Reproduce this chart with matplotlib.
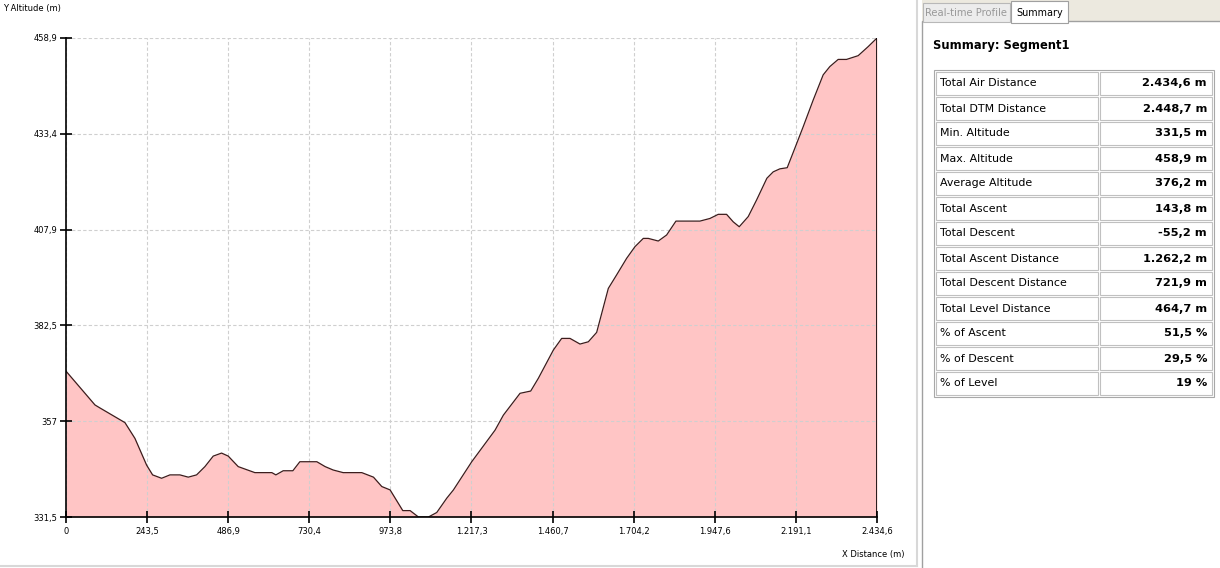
import matplotlib.pyplot as plt
from matplotlib.patches import Rectangle
import numpy as np

# profile (distance in m, altitude in m)
distance = [0, 87, 102, 177, 207, 242, 260, 287, 312, 342,
            367, 392, 417, 442, 467, 487, 517, 567, 618, 630,
            652, 681, 702, 753, 778, 802, 832, 888, 923, 948,
            973, 1011, 1033, 1058, 1088, 1113, 1143, 1163, 1218, 1288,
            1313, 1363, 1395, 1418, 1463, 1488, 1513, 1543, 1568, 1593,
            1628, 1653, 1683, 1708, 1733, 1748, 1778, 1803, 1831, 1903,
            1933, 1958, 1983, 2003, 2021, 2048, 2073, 2104, 2123, 2143,
            2165, 2188, 2213, 2243, 2273, 2293, 2318, 2343, 2378, 2408,
            2434.55]
altitude = [370.3, 361.3, 360.5, 356.6, 352.4, 345.3, 342.7, 341.8, 342.7, 342.7,
            342.1, 342.7, 344.9, 347.7, 348.5, 347.7, 344.9, 343.3, 343.3, 342.7,
            343.8, 343.8, 346.2, 346.2, 344.9, 344.0, 343.3, 343.3, 342.1, 339.6,
            338.7, 333.2, 333.2, 331.5, 331.5, 332.7, 336.5, 338.7, 346.2, 354.6,
            358.6, 364.4, 365.0, 368.4, 375.9, 379.0, 379.0, 377.5, 378.1, 380.6,
            392.3, 395.9, 400.3, 403.4, 405.6, 405.6, 404.9, 406.5, 410.2, 410.2,
            410.9, 412.0, 412.0, 410.0, 408.7, 411.4, 415.8, 421.6, 423.3, 424.1,
            424.4, 429.6, 435.3, 442.4, 449.1, 451.3, 453.2, 453.2, 454.2, 456.6,
            458.9]

x_min, x_max = 0, 2434.55
y_min, y_max = 331.5, 458.9
xtick_labels = ['0', '243,5', '486,9', '730,4', '973,8', '1.217,3', '1.460,7',
                '1.704,2', '1.947,6', '2.191,1', '2.434,6']
ytick_labels = ['331,5', '357', '382,5', '407,9', '433,4', '458,9']

# summary table
summary_names = ['Total Air Distance', 'Total DTM Distance', 'Min. Altitude',
                 'Max. Altitude', 'Average Altitude', 'Total Ascent',
                 'Total Descent', 'Total Ascent Distance', 'Total Descent Distance',
                 'Total Level Distance', '% of Ascent', '% of Descent', '% of Level']
summary_values = ['2.434,6 m', '2.448,7 m', '331,5 m', '458,9 m', '376,2 m',
                  '143,8 m', '-55,2 m', '1.262,2 m', '721,9 m', '464,7 m',
                  '51,5 %', '29,5 %', '19 %']

W, H = 1220, 568
fig = plt.figure(figsize=(W / 100, H / 100), dpi=100)
fig.patch.set_facecolor('white')

# profile chart
ax = fig.add_axes([66 / W, (H - 517) / H, 811 / W, 479 / H])
ax.fill_between(distance, altitude, y_min, color='#ffc5c5', linewidth=0, zorder=1)
ax.plot(distance, altitude, color='#3c1c1c', linewidth=0.9, zorder=3)
ax.vlines(distance[-1], y_min, altitude[-1], color='black', linewidth=1.2, zorder=4)
ax.set_xlim(x_min, x_max)
ax.set_ylim(y_min, y_max)
ax.set_xticks(np.linspace(x_min, x_max, len(xtick_labels)))
ax.set_xticklabels(xtick_labels)
ax.set_yticks(np.linspace(y_min, y_max, len(ytick_labels)))
ax.set_yticklabels(ytick_labels)
ax.tick_params(direction='inout', length=9, width=1.2, labelsize=6)
ax.tick_params(axis='y', pad=1.5)
ax.tick_params(axis='x', pad=3)
ax.grid(True, color='#cfcfcf', linestyle=(0, (3, 2)), linewidth=0.8)
ax.set_axisbelow(False)
for s in ['top', 'right']:
    ax.spines[s].set_visible(False)
for s in ['left', 'bottom']:
    ax.spines[s].set_linewidth(1.2)
    ax.spines[s].set_zorder(5)
fig.text(3 / W, 1 - 8 / H, 'Y Altitude (m)', fontsize=6, va='center', ha='left')
fig.text(905 / W, 1 - 555 / H, 'X Distance (m)', fontsize=6, va='center', ha='right')

# frame lines and right panel drawn in pixel coordinates
pan = fig.add_axes([0, 0, 1, 1])
pan.set_xlim(0, W)
pan.set_ylim(H, 0)
pan.axis('off')
pan.set_zorder(-1)
pan.plot([0, 917], [566, 566], color='#d8d8d8', linewidth=1.5)
pan.plot([917, 917], [0, 566], color='#d8d8d8', linewidth=1.5)
pan.add_patch(Rectangle((922, 0), W - 922, 22, facecolor='#ece9df', edgecolor='none'))
pan.add_patch(Rectangle((922, 21), W - 921, H - 20, facecolor='white', edgecolor='#a0a0a0', linewidth=1))
pan.add_patch(Rectangle((923, 3), 87, 19, facecolor='#ececec', edgecolor='#b8b8b8', linewidth=0.8))
pan.add_patch(Rectangle((1011, 1), 57, 22, facecolor='white', edgecolor='#a0a0a0', linewidth=0.8, zorder=3))
pan.text(966, 13, 'Real-time Profile', fontsize=7.2, color='#999999', ha='center', va='center')
pan.text(1040, 13, 'Summary', fontsize=6.9, color='black', ha='center', va='center', zorder=4)
pan.text(933, 45, 'Summary: Segment1', fontsize=8.3, fontweight='bold', ha='left', va='center')

top, row_h = 71, 25
col_l, col_m, col_r = 935, 1099, 1213
pan.add_patch(Rectangle((col_l - 1, top - 1), col_r - col_l + 2, row_h * len(summary_names) + 2,
                        facecolor='none', edgecolor='#a8a8a8', linewidth=0.8))
for i, (name, val) in enumerate(zip(summary_names, summary_values)):
    y0 = top + i * row_h
    pan.add_patch(Rectangle((col_l + 1, y0 + 1), col_m - col_l - 2, row_h - 2,
                            facecolor='none', edgecolor='#c0c0c0', linewidth=0.8))
    pan.add_patch(Rectangle((col_m + 1, y0 + 1), col_r - col_m - 2, row_h - 2,
                            facecolor='none', edgecolor='#c0c0c0', linewidth=0.8))
    pan.text(col_l + 5, y0 + row_h / 2, name, fontsize=7.9, ha='left', va='center')
    pan.text(col_r - 6, y0 + row_h / 2, val, fontsize=8.2, fontweight='bold',
             ha='right', va='center')

fig.savefig('out.png', dpi=100)
